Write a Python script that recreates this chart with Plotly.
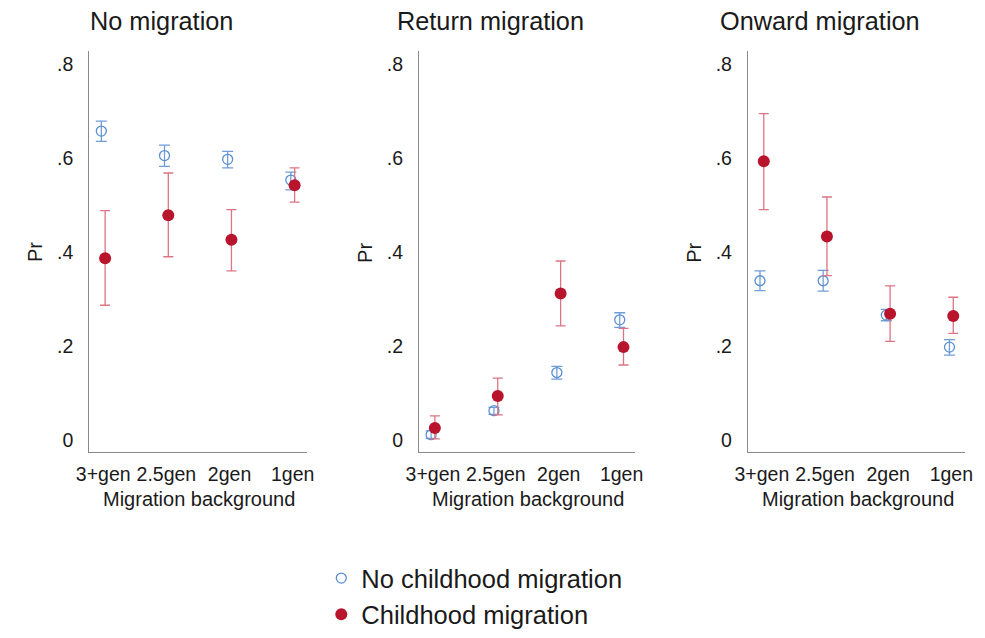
import plotly.graph_objects as go

categories = ["3+gen", "2.5gen", "2gen", "1gen"]
panels = ["No migration", "Return migration", "Onward migration"]
series_names = ["No childhood migration", "Childhood migration"]

# No childhood migration (blue, hollow)
no_child_est = [
    [0.657, 0.605, 0.597, 0.553],
    [0.012, 0.063, 0.144, 0.256],
    [0.339, 0.339, 0.266, 0.198],
]
no_child_lo = [
    [0.635, 0.582, 0.579, 0.532],
    [0.004, 0.055, 0.130, 0.240],
    [0.318, 0.317, 0.254, 0.181],
]
no_child_hi = [
    [0.678, 0.627, 0.614, 0.570],
    [0.020, 0.070, 0.157, 0.271],
    [0.360, 0.361, 0.278, 0.214],
]
# Childhood migration (red, filled)
child_est = [
    [0.387, 0.478, 0.426, 0.542],
    [0.026, 0.094, 0.312, 0.198],
    [0.593, 0.433, 0.269, 0.264],
]
child_lo = [
    [0.287, 0.390, 0.360, 0.506],
    [0.003, 0.054, 0.243, 0.160],
    [0.490, 0.350, 0.210, 0.227],
]
child_hi = [
    [0.488, 0.568, 0.490, 0.579],
    [0.052, 0.132, 0.381, 0.238],
    [0.694, 0.517, 0.328, 0.304],
]
y_tickvals = [0, 0.2, 0.4, 0.6, 0.8]
y_ticktext = ["0", ".2", ".4", ".6", ".8"]

W, H = 985, 638
BLUE = "#5a8fd2"
BLUE_ERR = "#6f9dd8"
RED = "#b8152d"
RED_ERR = "#dc7482"
TXT = "#1a1a1a"
FONT = "Liberation Sans, Arial, sans-serif"

x_px = [(78, 300), (415, 636), (751, 973)]
y_dom = [1 - 460 / H, 1 - 52 / H]
xpos = [1, 2, 3, 4]
off = 0.03

fig = go.Figure()
layout = {}
for i in range(3):
    ax = "" if i == 0 else str(i + 1)
    xa, ya = "x" + ax, "y" + ax
    fig.add_trace(go.Scatter(
        x=[v - off for v in xpos], y=no_child_est[i], mode="markers",
        name=series_names[0], showlegend=(i == 0), legendrank=1,
        xaxis=xa, yaxis=ya,
        marker=dict(symbol="circle-open", size=10, color=BLUE, line=dict(width=1.3, color=BLUE)),
        error_y=dict(type="data", symmetric=False,
                     array=[h - e for h, e in zip(no_child_hi[i], no_child_est[i])],
                     arrayminus=[e - l for e, l in zip(no_child_est[i], no_child_lo[i])],
                     color=BLUE_ERR, thickness=1.3, width=5.5),
    ))
    fig.add_trace(go.Scatter(
        x=[v + off for v in xpos], y=child_est[i], mode="markers",
        name=series_names[1], showlegend=(i == 0), legendrank=2,
        xaxis=xa, yaxis=ya,
        marker=dict(symbol="circle", size=12, color=RED),
        error_y=dict(type="data", symmetric=False,
                     array=[h - e for h, e in zip(child_hi[i], child_est[i])],
                     arrayminus=[e - l for e, l in zip(child_est[i], child_lo[i])],
                     color=RED_ERR, thickness=1.3, width=5),
    ))
    x0, x1 = x_px[i]
    layout["xaxis" + ax] = dict(
        domain=[x0 / W, x1 / W], range=[0.78, 4.22], anchor=ya,
        tickvals=xpos, ticktext=categories, showgrid=False, zeroline=False,
        showline=True, linecolor="#8a8a8a", linewidth=1.3, ticks="",
        ticklabelstandoff=4, tickfont=dict(size=19.5, color=TXT),
    )
    layout["yaxis" + ax] = dict(
        domain=y_dom, range=[-0.025, 0.827], anchor=xa,
        tickvals=y_tickvals, ticktext=y_ticktext, showgrid=False, zeroline=False,
        showline=True, linecolor="#8a8a8a", linewidth=1.3, ticks="",
        ticklabelstandoff=11, tickfont=dict(size=19.5, color=TXT),
    )

annotations = []
for i in range(3):
    x0, x1 = x_px[i]
    cx = (x0 + x1) / 2
    annotations.append(dict(text=panels[i], x=(cx - 37.5) / W, y=1 - 21 / H, xref="paper", yref="paper",
                            xanchor="center", yanchor="middle", showarrow=False,
                            font=dict(size=25.3, color=TXT)))
    annotations.append(dict(text="Migration background", x=(cx + 1) / W, y=1 - 508 / H,
                            xref="paper", yref="paper", xanchor="center", yanchor="middle",
                            showarrow=False, font=dict(size=20, color=TXT)))
    annotations.append(dict(text="Pr", x=(x0 - 56) / W, y=1 - 257 / H, xref="paper", yref="paper",
                            xanchor="center", yanchor="middle", textangle=-90, showarrow=False,
                            font=dict(size=20, color=TXT)))

fig.update_layout(
    width=W, height=H, margin=dict(l=0, r=0, t=0, b=0),
    paper_bgcolor="white", plot_bgcolor="white",
    font=dict(family=FONT, color=TXT),
    annotations=annotations,
    legend=dict(x=315 / W, y=1 - 565 / H, xanchor="left", yanchor="top",
                font=dict(size=25.5, color=TXT), bgcolor="rgba(0,0,0,0)",
                itemwidth=30),
    **layout,
)
fig.write_html("out.html", config={"displayModeBar": False},
               post_script="document.body.style.margin='0';document.body.style.overflow='hidden';")
